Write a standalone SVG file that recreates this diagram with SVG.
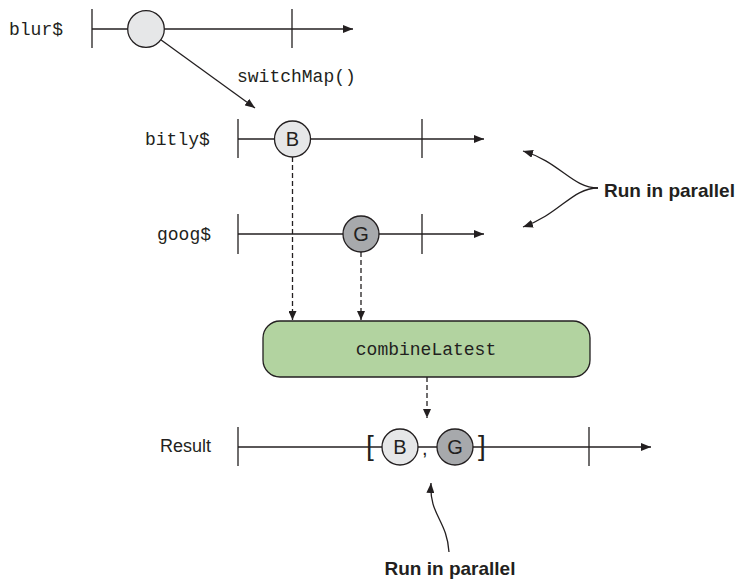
<svg xmlns="http://www.w3.org/2000/svg" width="742" height="580" viewBox="0 0 742 580">
<defs>
<marker id="ah" viewBox="0 0 10 8" refX="10" refY="4" markerWidth="10" markerHeight="8" markerUnits="userSpaceOnUse" orient="auto">
<path d="M0,0 L10,4 L0,8 Z" fill="#231f20"/>
</marker>
<marker id="ahs" viewBox="0 0 9 8" refX="9" refY="4" markerWidth="9" markerHeight="8" markerUnits="userSpaceOnUse" orient="auto">
<path d="M0,0 L9,4 L0,8 Z" fill="#231f20"/>
</marker>
</defs>
<style>
.ln{stroke:#231f20;stroke-width:1.3;fill:none}
.tk{stroke:#231f20;stroke-width:1.3}
.dash{stroke:#231f20;stroke-width:1.3;stroke-dasharray:5,3;fill:none}
.mono{font-family:"Liberation Mono",monospace;font-size:18px;fill:#231f20}
.sans{font-family:"Liberation Sans",Arial,sans-serif;fill:#231f20}
.lbl{font-family:"Liberation Sans",Arial,sans-serif;font-weight:bold;font-size:19px;fill:#231f20}
.light{fill:#e6e7e8;stroke:#231f20;stroke-width:1.3}
.dark{fill:#a7a9ac;stroke:#231f20;stroke-width:1.3}
</style>

<g id="blur">
<text class="mono" x="9" y="35">blur$</text>
<line class="ln" x1="92" y1="29" x2="353" y2="29" marker-end="url(#ah)"/>
<line class="tk" x1="92" y1="9" x2="92" y2="48"/>
<line class="tk" x1="292" y1="9" x2="292" y2="48"/>
<circle class="light" cx="146" cy="29" r="18.3"/>
</g>

<g id="bitly">
<text class="mono" x="145" y="145">bitly$</text>
<line class="ln" x1="238" y1="139" x2="484" y2="139" marker-end="url(#ah)"/>
<line class="tk" x1="238" y1="119" x2="238" y2="158"/>
<line class="tk" x1="422" y1="119" x2="422" y2="158"/>
<circle class="light" cx="292.5" cy="139" r="18"/>
<text class="sans" x="292.5" y="146" font-size="20" text-anchor="middle">B</text>
</g>

<g id="goog">
<text class="mono" x="157" y="240">goog$</text>
<line class="ln" x1="238" y1="234" x2="484" y2="234" marker-end="url(#ah)"/>
<line class="tk" x1="238" y1="214" x2="238" y2="254"/>
<line class="tk" x1="422" y1="214" x2="422" y2="254"/>
<circle class="dark" cx="361" cy="234" r="18"/>
<text class="sans" x="361" y="241" font-size="20" text-anchor="middle">G</text>
</g>

<g id="combineLatest">
<rect x="263" y="321" width="327" height="56" rx="17" ry="17" fill="#b2d3a0" stroke="#231f20" stroke-width="1.3"/>
<text class="mono" x="426" y="355" text-anchor="middle">combineLatest</text>
</g>

<g id="result">
<text class="sans" x="160" y="452" font-size="18">Result</text>
<line class="ln" x1="238" y1="447" x2="651" y2="447" marker-end="url(#ah)"/>
<line class="tk" x1="238" y1="427" x2="238" y2="466"/>
<line class="tk" x1="589" y1="427" x2="589" y2="466"/>
<text class="sans" x="366" y="455" font-size="28">[</text>
<text class="sans" x="478" y="455" font-size="28">]</text>
<text class="sans" x="422" y="455" font-size="20">,</text>
<circle class="light" cx="400" cy="447" r="18"/>
<text class="sans" x="400" y="454" font-size="20" text-anchor="middle">B</text>
<circle class="dark" cx="455" cy="447" r="18"/>
<text class="sans" x="455" y="454" font-size="20" text-anchor="middle">G</text>
</g>

<g id="label-right">
<text class="lbl" x="604" y="197">Run in parallel</text>
</g>
<g id="label-bottom">
<text class="lbl" x="450" y="575" text-anchor="middle" font-size="19.5">Run in parallel</text>
</g>

<g id="connectors">
<line class="ln" x1="160.8" y1="39.7" x2="255" y2="108" marker-end="url(#ah)"/>
<text class="mono" x="237" y="82">switchMap()</text>
<line class="dash" x1="292.5" y1="157" x2="292.5" y2="320" marker-end="url(#ahs)"/>
<line class="dash" x1="361" y1="252" x2="361" y2="320" marker-end="url(#ahs)"/>
<line class="dash" x1="427" y1="377" x2="427" y2="418" marker-end="url(#ahs)"/>
<path class="ln" d="M598,188 C572,188 560,162 523,151" marker-end="url(#ah)"/>
<path class="ln" d="M598,188 C572,188 560,214 523,227" marker-end="url(#ah)"/>
<path class="ln" d="M449,552 C447,520 429,515 431,483" marker-end="url(#ah)"/>
</g>
</svg>
